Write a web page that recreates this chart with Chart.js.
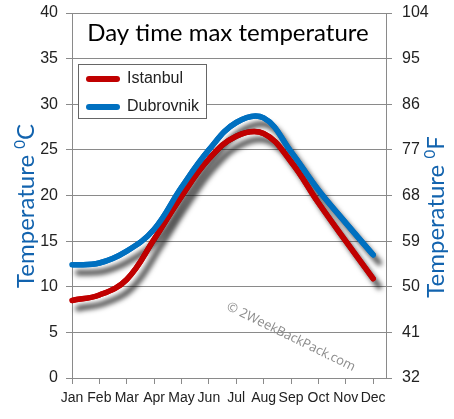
<!DOCTYPE html>
<html>
<head>
<meta charset="utf-8">
<script src="https://cdn.jsdelivr.net/npm/chart.js@4.4.0/dist/chart.umd.min.js"></script>
<style>
  html, body { margin: 0; padding: 0; background: #fff; }
  #wrap { width: 454px; height: 419px; }
</style>
</head>
<body>
<div id="wrap"><canvas id="tempChart" width="454" height="419"></canvas></div>
<script>
// datos
const months = ['Jan', 'Feb', 'Mar', 'Apr', 'May', 'Jun', 'Jul', 'Aug', 'Sep', 'Oct', 'Nov', 'Dec'];
const istanbul = [8.5, 9.1, 10.8, 15.2, 19.9, 24.0, 26.5, 26.8, 23.7, 19.2, 15.0, 10.9];
const dubrovnik = [12.4, 12.6, 13.9, 16.3, 20.9, 25.0, 28.0, 28.5, 24.8, 20.6, 17.0, 13.5];
const celsiusTicks = [0, 5, 10, 15, 20, 25, 30, 35, 40];
const fahrenheitTicks = [32, 41, 50, 59, 68, 77, 86, 95, 104];

const seriesNames = ['Istanbul', 'Dubrovnik'];
const seriesColors = ['#C00000', '#0070C0'];

const gridGray = '#8a8a8a';
const tickFont = "'Liberation Sans', sans-serif";
const axisBlue = '#1263AE';

function toPoints(values) {
    return values.map(function (v, i) { return { x: i, y: v }; });
}

function noPadding(axis) {
    axis.paddingTop = 0;
    axis.paddingBottom = 0;
    axis.paddingLeft = 0;
    axis.paddingRight = 0;
}

// sombras de las lineas, dibujadas antes que las lineas
const shadowPlugin = {
    id: 'shadows',
    beforeDatasetsDraw(chart) {
        const ctx = chart.ctx;
        // marca de agua
        ctx.save();
        ctx.translate(291, 337);
        ctx.rotate(26 * Math.PI / 180);
        ctx.font = "13px 'Open Sans', sans-serif";
        ctx.fillStyle = '#8c8c8c';
        ctx.textAlign = 'center';
        ctx.textBaseline = 'middle';
        ctx.fillText('\u00A9 2WeekBackPack.com', 0, 0);
        ctx.restore();

        chart.data.datasets.forEach(function (ds, i) {
            const meta = chart.getDatasetMeta(i);
            ctx.save();
            ctx.shadowColor = 'rgba(0,0,0,0.7)';
            ctx.shadowBlur = 5;
            ctx.shadowOffsetX = 6;
            ctx.shadowOffsetY = 8;
            meta.dataset.draw(ctx, chart.chartArea);
            ctx.restore();
        });
    }
};

// titulo, leyenda y titulos de ejes
const decorPlugin = {
    id: 'decor',
    afterDraw(chart) {
        const ctx = chart.ctx;
        ctx.save();

        // titulo
        ctx.font = "24px Lato, sans-serif";
        ctx.fillStyle = '#000';
        ctx.textAlign = 'center';
        ctx.textBaseline = 'middle';
        ctx.fillText('Day time max temperature', 228, 33);

        // leyenda
        ctx.fillStyle = '#fff';
        ctx.fillRect(78.5, 64.5, 128, 54);
        ctx.strokeStyle = '#666';
        ctx.lineWidth = 1;
        ctx.strokeRect(78.5, 64.5, 128, 54);
        chart.data.datasets.forEach(function (ds, i) {
            const y = 79 + i * 28;
            ctx.beginPath();
            ctx.moveTo(89, y);
            ctx.lineTo(117, y);
            ctx.strokeStyle = ds.borderColor;
            ctx.lineWidth = 6;
            ctx.lineCap = 'round';
            ctx.stroke();
            ctx.font = "16px " + tickFont;
            ctx.fillStyle = '#222';
            ctx.textAlign = 'left';
            ctx.textBaseline = 'middle';
            ctx.fillText(ds.label, 127, y);
        });

        // titulos de ejes (rotados)
        function axisTitle(x, y, unit) {
            ctx.save();
            ctx.translate(x, y);
            ctx.rotate(-Math.PI / 2);
            ctx.fillStyle = axisBlue;
            ctx.textBaseline = 'alphabetic';
            ctx.textAlign = 'left';
            const big = "24px Lato, sans-serif";
            const small = "15px Lato, sans-serif";
            ctx.font = big;
            const w1 = ctx.measureText('Temperature ').width;
            const w3 = ctx.measureText(unit).width;
            ctx.font = small;
            const w2 = ctx.measureText('0').width;
            let start = -(w1 + w2 + w3) / 2;
            ctx.font = big;
            ctx.fillText('Temperature ', start, 0);
            ctx.font = small;
            ctx.fillText('0', start + w1, -9);
            ctx.font = big;
            ctx.fillText(unit, start + w1 + w2, 0);
            ctx.restore();
        }
        axisTitle(34, 206, 'C');
        axisTitle(444, 217, 'F');

        ctx.restore();
    }
};

const ctx = document.getElementById('tempChart').getContext('2d');
new Chart(ctx, {
    type: 'line',
    data: {
        datasets: [{
            label: seriesNames[0],
            data: toPoints(istanbul),
            borderColor: seriesColors[0],
            backgroundColor: seriesColors[0],
            order: 1
        }, {
            label: seriesNames[1],
            data: toPoints(dubrovnik),
            borderColor: seriesColors[1],
            backgroundColor: seriesColors[1],
            order: 0
        }]
    },
    options: {
        responsive: false,
        animation: false,
        layout: { padding: { top: 13, left: 0, right: 0, bottom: 0 } },
        elements: {
            line: { borderWidth: 5.5, tension: 0.4, borderCapStyle: 'round', borderJoinStyle: 'round' },
            point: { radius: 0, hoverRadius: 0 }
        },
        plugins: {
            legend: { display: false },
            tooltip: { enabled: false }
        },
        scales: {
            x: {
                type: 'linear',
                min: 0,
                max: 11.47,
                afterBuildTicks: function (axis) {
                    axis.ticks = months.map(function (m, i) { return { value: i }; });
                },
                afterFit: function (axis) { axis.height = 41; noPadding(axis); },
                grid: { drawOnChartArea: false, drawTicks: true, tickLength: 6, color: gridGray },
                border: { display: true, color: gridGray },
                ticks: {
                    callback: function (v) { return months[v]; },
                    autoSkip: false,
                    maxRotation: 0,
                    padding: 6,
                    color: '#222',
                    font: { family: tickFont, size: 14 }
                }
            },
            y: {
                position: 'left',
                min: 0,
                max: 40,
                afterBuildTicks: function (axis) {
                    axis.ticks = celsiusTicks.map(function (v) { return { value: v }; });
                },
                afterFit: function (axis) { axis.width = 72; noPadding(axis); },
                grid: { color: gridGray, tickLength: 6 },
                border: { display: true, color: gridGray },
                ticks: {
                    padding: 8,
                    color: '#222',
                    font: { family: tickFont, size: 16 }
                }
            },
            yF: {
                position: 'right',
                min: 32,
                max: 104,
                afterBuildTicks: function (axis) {
                    axis.ticks = fahrenheitTicks.map(function (v) { return { value: v }; });
                },
                afterFit: function (axis) { axis.width = 68; noPadding(axis); },
                grid: { drawOnChartArea: false, color: gridGray, tickLength: 6 },
                border: { display: true, color: gridGray },
                ticks: {
                    padding: 10,
                    color: '#222',
                    font: { family: tickFont, size: 16 }
                }
            }
        }
    },
    plugins: [shadowPlugin, decorPlugin]
});
</script>
</body>
</html>
